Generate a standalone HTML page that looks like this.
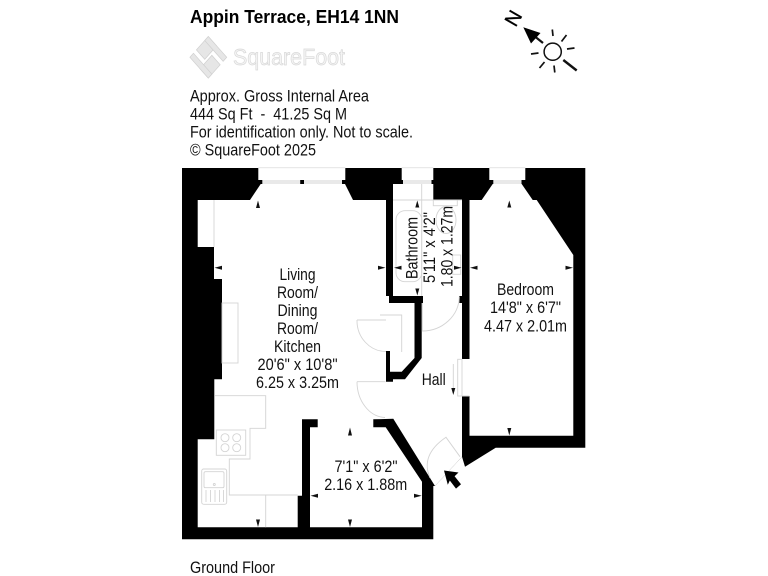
<!DOCTYPE html>
<html>
<head>
<meta charset="utf-8">
<style>
html,body{margin:0;padding:0;background:#fff;width:768px;height:576px;overflow:hidden}
svg{display:block}
text{font-family:"Liberation Sans",sans-serif;fill:#111;font-size:16.3px}
.g{fill:none;stroke:#d4d4d4;stroke-width:.9}
.m{fill:#111;stroke:none}
</style>
</head>
<body>
<svg width="768" height="576" viewBox="0 0 768 576" xmlns="http://www.w3.org/2000/svg">
<!-- Header -->
<text x="190" y="23" style="font-weight:bold;font-size:18.5px;fill:#000" textLength="209" lengthAdjust="spacingAndGlyphs">Appin Terrace, EH14 1NN</text>
<!-- Logo -->
<g transform="translate(208.3,57.3) scale(.84,.95) rotate(45)">
<rect x="-15.5" y="-15.5" width="14" height="20" fill="#e6e6e6" stroke="#d0d0d0" stroke-width=".8"/>
<rect x="1.5" y="-4.5" width="14" height="20" fill="#e6e6e6" stroke="#d0d0d0" stroke-width=".8"/>
<rect x="-15.5" y="-15.5" width="31" height="6" fill="#e6e6e6" stroke="#d0d0d0" stroke-width=".8"/>
<rect x="-15.5" y="9.5" width="31" height="6" fill="#e6e6e6" stroke="#d0d0d0" stroke-width=".8"/>
</g>
<text x="233" y="65" style="font-size:23px;fill:#f4f4f4;stroke:#d8d8d8;stroke-width:.7" textLength="112" lengthAdjust="spacingAndGlyphs">SquareFoot</text>
<text x="190" y="101.5" textLength="179" lengthAdjust="spacingAndGlyphs">Approx. Gross Internal Area</text>
<text x="190" y="119.5" xml:space="preserve" textLength="157" lengthAdjust="spacingAndGlyphs">444 Sq Ft  -  41.25 Sq M</text>
<text x="190" y="137.5" textLength="223" lengthAdjust="spacingAndGlyphs">For identification only. Not to scale.</text>
<text x="190" y="155.5" textLength="126" lengthAdjust="spacingAndGlyphs">© SquareFoot 2025</text>

<!-- Compass -->
<text transform="translate(513,18) rotate(-60)" x="0" y="7.2" text-anchor="middle" style="font-size:20px;fill:#000;stroke:#000;stroke-width:.3">N</text>
<circle cx="552.7" cy="51.7" r="8.6" fill="none" stroke="#111" stroke-width="1.5"/>
<g stroke="#111" stroke-width="1.7" fill="none">
<path d="M552.3 29.5L553 36"/><path d="M566.5 35L561.5 41.5"/><path d="M567 49L574.5 48"/>
<path d="M531 54L538.5 53"/><path d="M539.5 68L544.5 62"/><path d="M554 65.5L554.8 72.5"/>
</g>
<path d="M563.3 60L576.7 70.5" stroke="#111" stroke-width="2.4"/>
<path d="M533 35L543 43" stroke="#111" stroke-width="2.2"/>
<polygon points="523.3,27.3 540.5,33 531,43.5" fill="#000"/>

<!-- Plan black -->
<polygon fill="#000" points="182,168 585.3,168 585.3,447.7 495.7,447.7 465,466.7 462,456.7 435,486 433.3,486 433.3,539.3 182,539.3"/>
<!-- Main interior -->
<polygon fill="#fff" points="197.7,200 250,200 260.7,184 345,184 353,200 386,200 386,296 389,296 389,303 414.5,303 414.5,358 401.7,371.7 390,371.7 390,351 386,351 386,381.7 393,381.7 393,379.3 405,379.3 421.7,358 421.7,303 423,303 423,296 393,296 393,184 433.3,184 433.3,200 462,200 462,456.7 435,486 393.3,418.8 373.3,419.3 373.3,427.3 385.7,427.3 422,481.7 422,527.3 310,527.3 310,427.3 317.7,427.3 317.7,419.3 302,419.3 302,495.7 297.7,495.7 297.7,527.3 197.7,527.3 197.7,439.3 214.3,439.3 214.3,379.3 222,379.3 222,279 214,279 214,247 197.7,247"/>
<!-- Bedroom interior -->
<polygon fill="#fff" points="469.5,200 481.7,200 492.7,184 521.7,184 532.7,200 536.7,200 573.3,255 573.3,435.7 469.5,435.7"/>
<rect x="461" y="359" width="9" height="37" fill="#fff"/>
<rect x="459.3" y="296" width="2.9" height="7" fill="#000"/>

<!-- Windows -->
<g fill="#fff">
<rect x="258.3" y="168" width="87" height="12"/>
<rect x="401.7" y="168" width="31.6" height="12"/>
<rect x="489.3" y="168" width="36" height="12"/>
</g>
<g fill="#e9e9e9">
<rect x="262" y="180" width="82" height="4"/>
<rect x="403" y="180" width="29" height="4"/>
<rect x="493" y="180" width="29" height="4"/>
<rect x="258.3" y="167" width="87" height="1.2"/>
<rect x="401.7" y="167" width="31.6" height="1.2"/>
<rect x="489.3" y="167" width="36" height="1.2"/>
</g>
<g fill="#000">
<rect x="258.5" y="180" width="3.8" height="4"/><rect x="300.2" y="180" width="3.8" height="4"/><rect x="342" y="180" width="3.5" height="4"/>
<rect x="399" y="180" width="4" height="4"/><rect x="431.5" y="180" width="2" height="4"/>
<rect x="489.3" y="180" width="4" height="4"/><rect x="521.5" y="180" width="4" height="4"/>
</g>

<!-- Fixtures -->
<path class="g" d="M214 200V247"/>
<rect class="g" x="222" y="303" width="16" height="60"/>
<path class="g" d="M214.3 395.7H265.7V428.3H250V459H229.3V495H297.7M265.7 495V527.3"/>
<rect class="g" x="216.3" y="430" width="29.4" height="25.3"/>
<g class="g"><circle cx="225" cy="437.7" r="4"/><circle cx="236.7" cy="437.7" r="4"/><circle cx="225" cy="447.7" r="4"/><circle cx="236.7" cy="447.7" r="4"/></g>
<rect class="g" x="201.7" y="469" width="25" height="35.3" rx="2"/>
<rect class="g" x="204" y="471.7" width="20" height="16" rx="1.5"/>
<circle class="g" cx="214.3" cy="484.5" r="1"/>
<path class="g" d="M206 490V502M210.5 490V502M215 490V502M219.5 490V502M223.5 490V502"/>
<!-- Bathroom fixtures -->
<path class="g" d="M421.7 184V296M393 200H462"/>
<rect class="g" x="396" y="210.7" width="25.7" height="71" rx="9"/>
<rect class="g" x="433.3" y="200" width="24" height="5.7"/>
<ellipse class="g" cx="446" cy="220" rx="10" ry="13.5"/>
<rect class="g" x="452.7" y="255" width="8" height="19.3"/>
<path class="g" d="M380 315H401.7V352"/>

<!-- Doors -->
<path class="g" d="M357 320H386M357 320A29 31 0 0 0 386 351.5"/>
<path class="g" d="M357 381.7H385.5M357 381.7A29 36 0 0 0 385 417.5"/>
<path class="g" d="M422.3 303V331A37 35 0 0 0 459.3 296.7"/>
<path class="g" d="M460 456.7L446 437.3Q420 455 430 478"/>
<rect class="g" x="457.7" y="359.3" width="4.3" height="36.7"/>
<path class="g" d="M462 396H469.3M453.3 364V388"/>
<polygon fill="#000" points="444,470.5 458.5,472.5 454.6,476.2 461,484.3 456,488.6 449.8,480.5 447.8,484.8"/>

<!-- Dimension arrows -->
<g class="m">
<polygon points="258,200.5 256,208 260,208"/>
<polygon points="258,527 256,519.5 260,519.5"/>
<polygon points="214.5,267.7 222,265.7 222,269.7"/>
<polygon points="385.5,267.7 378,265.7 378,269.7"/>
<polygon points="350,427.5 348,435.5 352,435.5"/>
<polygon points="350,527 348,519.5 352,519.5"/>
<polygon points="310.5,495.7 318,493.7 318,497.7"/>
<polygon points="421.7,495.7 414,493.7 414,497.7"/>
<polygon points="417.3,200.5 415.3,207.5 419.3,207.5"/>
<polygon points="417.3,295.5 415.3,288.5 419.3,288.5"/>
<polygon points="394,267.7 401.5,265.7 401.5,269.7"/>
<polygon points="461.5,267.7 454,265.7 454,269.7"/>
<polygon points="509.3,200.5 507.3,207.5 511.3,207.5"/>
<polygon points="509.3,435.5 507.3,428 511.3,428"/>
<polygon points="470,267.7 477.5,265.7 477.5,269.7"/>
<polygon points="573,267.7 565.5,265.7 565.5,269.7"/>
<polygon points="453.3,395 451.3,388 455.3,388"/>
</g>

<!-- Labels -->
<g text-anchor="middle">
<text x="297.5" y="280" textLength="36" lengthAdjust="spacingAndGlyphs">Living</text>
<text x="297.5" y="298" textLength="41" lengthAdjust="spacingAndGlyphs">Room/</text>
<text x="297.5" y="316" textLength="40" lengthAdjust="spacingAndGlyphs">Dining</text>
<text x="297.5" y="334" textLength="41" lengthAdjust="spacingAndGlyphs">Room/</text>
<text x="297.5" y="352" textLength="47" lengthAdjust="spacingAndGlyphs">Kitchen</text>
<text x="297.5" y="370" textLength="80" lengthAdjust="spacingAndGlyphs">20'6" x 10'8"</text>
<text x="297.5" y="388" textLength="83" lengthAdjust="spacingAndGlyphs">6.25 x 3.25m</text>
<text x="525.5" y="295" textLength="57" lengthAdjust="spacingAndGlyphs">Bedroom</text>
<text x="525.5" y="313" textLength="71" lengthAdjust="spacingAndGlyphs">14'8" x 6'7"</text>
<text x="525.5" y="331.5" textLength="83" lengthAdjust="spacingAndGlyphs">4.47 x 2.01m</text>
<text x="366" y="472" textLength="63" lengthAdjust="spacingAndGlyphs">7'1" x 6'2"</text>
<text x="365.7" y="490" textLength="83" lengthAdjust="spacingAndGlyphs">2.16 x 1.88m</text>
<text x="433.7" y="385" textLength="24" lengthAdjust="spacingAndGlyphs">Hall</text>
<text transform="translate(417.3,248) rotate(-90)" textLength="62" lengthAdjust="spacingAndGlyphs">Bathroom</text>
<text transform="translate(435,247.5) rotate(-90)" textLength="71" lengthAdjust="spacingAndGlyphs">5'11" x 4'2"</text>
<text transform="translate(452.7,246.5) rotate(-90)" textLength="81" lengthAdjust="spacingAndGlyphs">1.80 x 1.27m</text>
</g>
<text x="190" y="573" textLength="85" lengthAdjust="spacingAndGlyphs">Ground Floor</text>
</svg>
</body>
</html>
